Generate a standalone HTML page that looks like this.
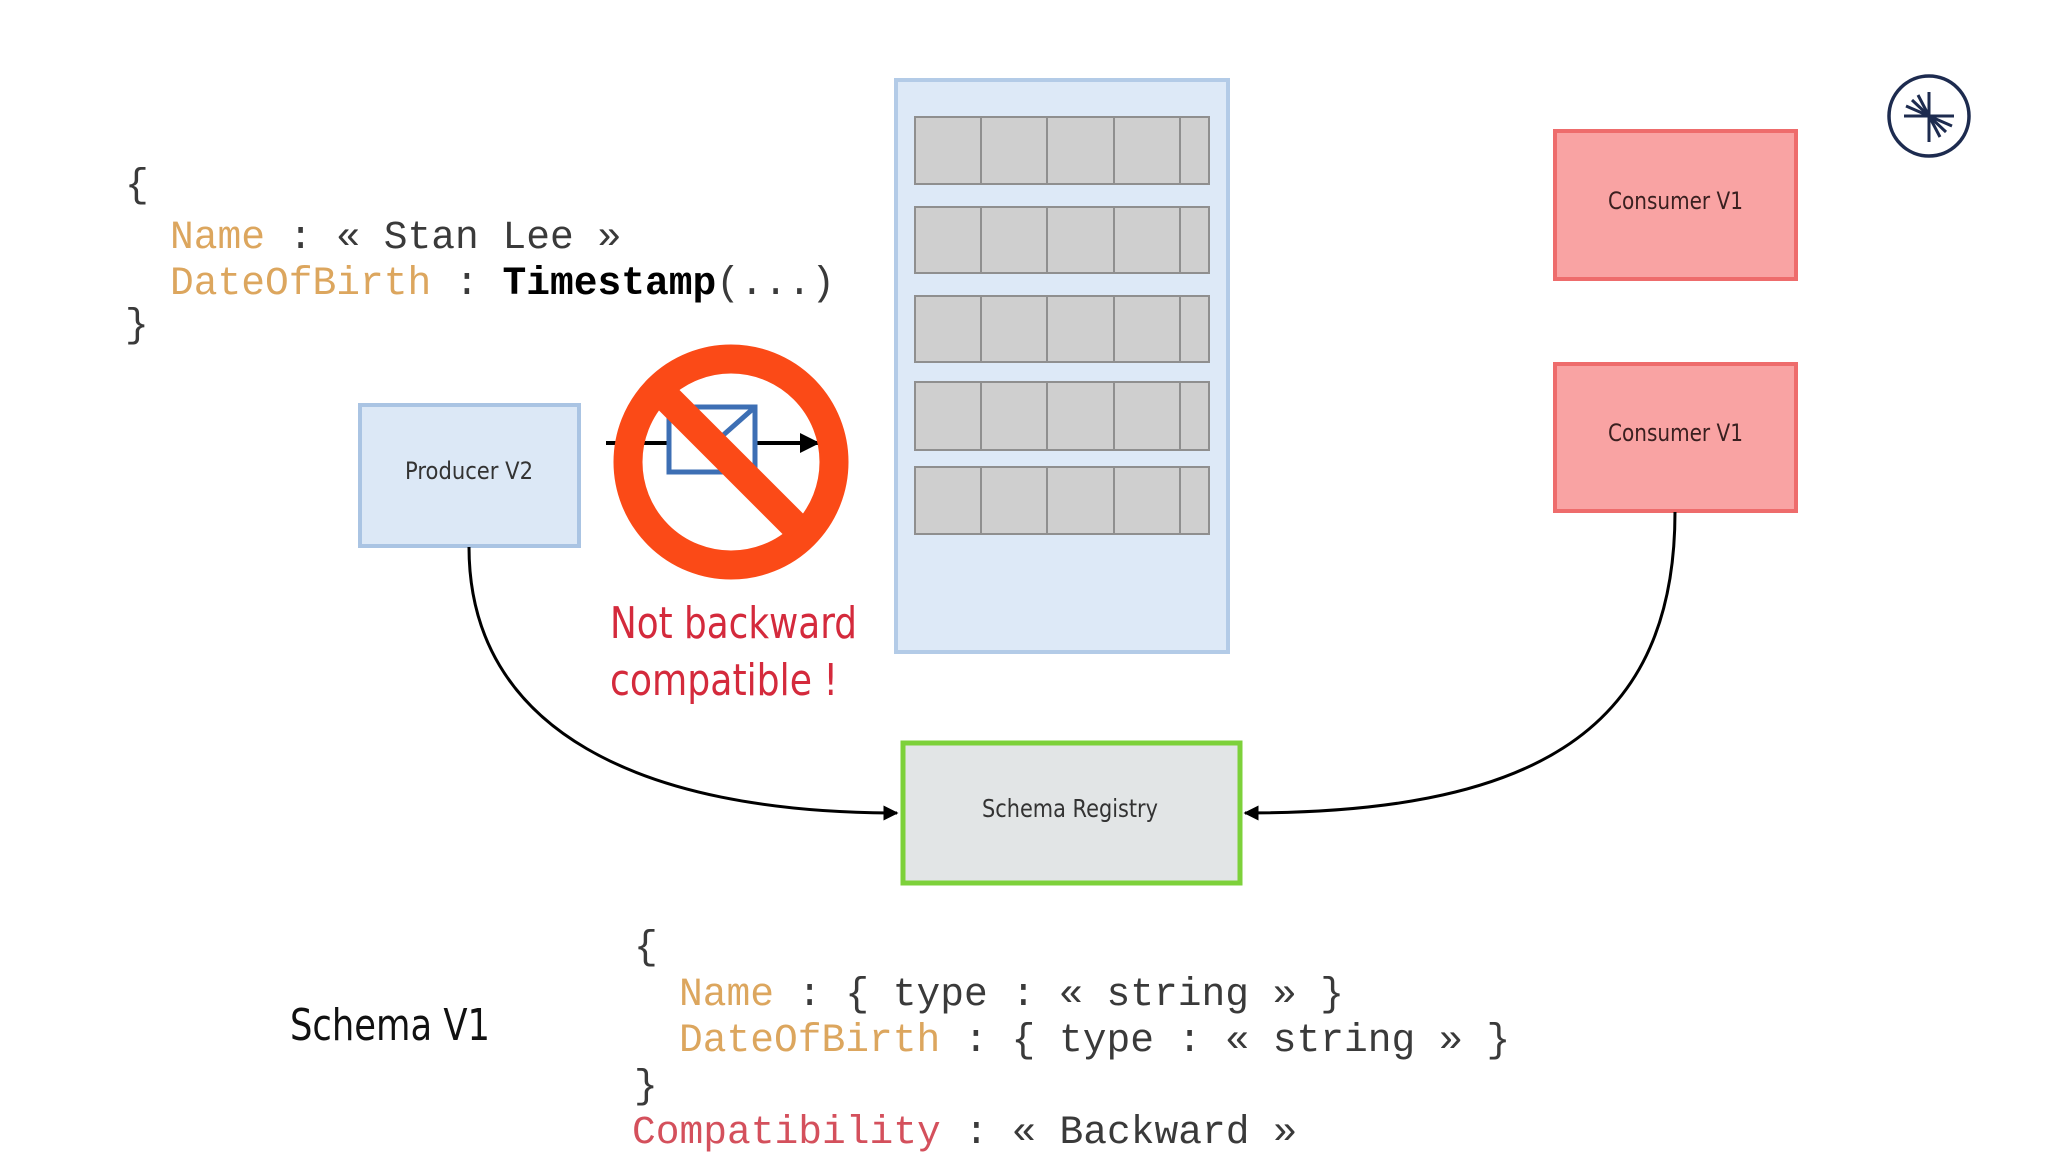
<!DOCTYPE html>
<html><head><meta charset="utf-8"><style>
html,body{margin:0;padding:0;background:#fff;}
svg{display:block;}
.mono{font-family:"Liberation Mono",monospace;font-size:39.6px;fill:#3a3a3a;}
.hand{font-family:"DejaVu Sans","Liberation Sans",sans-serif;}
</style></head><body>
<svg width="2048" height="1152" viewBox="0 0 2048 1152" xmlns="http://www.w3.org/2000/svg">
<defs>
<marker id="ah" viewBox="0 0 10 10" refX="9" refY="5" markerWidth="5" markerHeight="5" orient="auto" markerUnits="strokeWidth">
<path d="M0,0 L10,5 L0,10 z" fill="#000"/></marker>
</defs>
<rect width="2048" height="1152" fill="#fff"/>

<!-- top code -->
<text class="mono" x="125" y="196">{</text>
<text class="mono" x="170" y="248"><tspan fill="#dca65e">Name</tspan> : « Stan Lee »</text>
<text class="mono" x="170" y="294"><tspan fill="#dca65e">DateOfBirth</tspan> : <tspan font-weight="bold" fill="#000">Timestamp</tspan>(...)</text>
<text class="mono" x="125" y="336">}</text>

<!-- producer -->
<rect x="360" y="405" width="219" height="141" fill="#dce8f6" stroke="#aac4e3" stroke-width="4"/>
<text class="hand" x="405" y="479" font-size="24" fill="#333" textLength="128" lengthAdjust="spacingAndGlyphs">Producer V2</text>

<!-- arrow + envelope + no sign -->
<line x1="606" y1="443" x2="818" y2="443" stroke="#000" stroke-width="4" marker-end="url(#ah)"/>
<rect x="669" y="407" width="86" height="65" fill="#fff" stroke="#3d6fb4" stroke-width="5"/>
<line x1="755" y1="407" x2="712" y2="445" stroke="#3d6fb4" stroke-width="5"/>
<circle cx="731" cy="462" r="103" fill="none" stroke="#fb4a17" stroke-width="29"/>
<line x1="664" y1="395" x2="798" y2="529" stroke="#fb4a17" stroke-width="29"/>

<text class="hand" x="610" y="638" font-size="44" fill="#d42a3c" textLength="247" lengthAdjust="spacingAndGlyphs">Not backward</text>
<text class="hand" x="610" y="695" font-size="44" fill="#d42a3c" textLength="228" lengthAdjust="spacingAndGlyphs">compatible !</text>

<!-- topic -->
<rect x="896" y="80" width="332" height="572" fill="#dde9f7" stroke="#b3cbe7" stroke-width="4"/>
<g fill="#cfcfcf" stroke="#8f8f8f" stroke-width="2">
<rect x="915" y="117" width="294" height="67"/>
<rect x="915" y="207" width="294" height="66"/>
<rect x="915" y="296" width="294" height="66"/>
<rect x="915" y="382" width="294" height="68"/>
<rect x="915" y="467" width="294" height="67"/>
</g>
<g stroke="#8f8f8f" stroke-width="2">
<line x1="981" y1="117" x2="981" y2="184"/><line x1="1047" y1="117" x2="1047" y2="184"/><line x1="1114" y1="117" x2="1114" y2="184"/><line x1="1180" y1="117" x2="1180" y2="184"/>
<line x1="981" y1="207" x2="981" y2="273"/><line x1="1047" y1="207" x2="1047" y2="273"/><line x1="1114" y1="207" x2="1114" y2="273"/><line x1="1180" y1="207" x2="1180" y2="273"/>
<line x1="981" y1="296" x2="981" y2="362"/><line x1="1047" y1="296" x2="1047" y2="362"/><line x1="1114" y1="296" x2="1114" y2="362"/><line x1="1180" y1="296" x2="1180" y2="362"/>
<line x1="981" y1="382" x2="981" y2="450"/><line x1="1047" y1="382" x2="1047" y2="450"/><line x1="1114" y1="382" x2="1114" y2="450"/><line x1="1180" y1="382" x2="1180" y2="450"/>
<line x1="981" y1="467" x2="981" y2="534"/><line x1="1047" y1="467" x2="1047" y2="534"/><line x1="1114" y1="467" x2="1114" y2="534"/><line x1="1180" y1="467" x2="1180" y2="534"/>
</g>

<!-- consumers -->
<rect x="1555" y="131" width="241" height="148" fill="#f9a3a3" stroke="#ee6c6c" stroke-width="4"/>
<text class="hand" x="1608" y="209" font-size="24" fill="#3a2020" textLength="135" lengthAdjust="spacingAndGlyphs">Consumer V1</text>
<rect x="1555" y="364" width="241" height="147" fill="#f9a3a3" stroke="#ee6c6c" stroke-width="4"/>
<text class="hand" x="1608" y="441" font-size="24" fill="#3a2020" textLength="135" lengthAdjust="spacingAndGlyphs">Consumer V1</text>

<!-- logo -->
<circle cx="1929" cy="116" r="40" fill="none" stroke="#1d2b4f" stroke-width="3.5"/>
<g stroke="#1d2b4f" stroke-width="3">
<line x1="1929" y1="92" x2="1929" y2="142"/>
<line x1="1904" y1="116" x2="1954" y2="116"/>
<line x1="1912" y1="100" x2="1946" y2="132"/>
<line x1="1918" y1="95" x2="1940" y2="137"/>
<line x1="1906" y1="106" x2="1952" y2="126"/>
</g>

<!-- schema registry -->
<rect x="903" y="743" width="337" height="140" fill="#e2e5e6" stroke="#7dd13a" stroke-width="5"/>
<text class="hand" x="982" y="817" font-size="25" fill="#333" textLength="176" lengthAdjust="spacingAndGlyphs">Schema Registry</text>

<!-- connectors -->
<path d="M469,547 C469,730 640,813 897,813" fill="none" stroke="#000" stroke-width="3" marker-end="url(#ah)"/>
<path d="M1675,512 C1675,740 1520,813 1245,813" fill="none" stroke="#000" stroke-width="3" marker-end="url(#ah)"/>

<!-- schema v1 -->
<text class="hand" x="290" y="1040" font-size="44" fill="#111" textLength="200" lengthAdjust="spacingAndGlyphs">Schema V1</text>
<text class="mono" x="634" y="958">{</text>
<text class="mono" x="679" y="1005"><tspan fill="#dca65e">Name</tspan> : { type : « string » }</text>
<text class="mono" x="679" y="1051"><tspan fill="#dca65e">DateOfBirth</tspan> : { type : « string » }</text>
<text class="mono" x="634" y="1097">}</text>
<text class="mono" x="632" y="1143"><tspan fill="#d4505c">Compatibility</tspan> : « Backward »</text>
</svg>
</body></html>
